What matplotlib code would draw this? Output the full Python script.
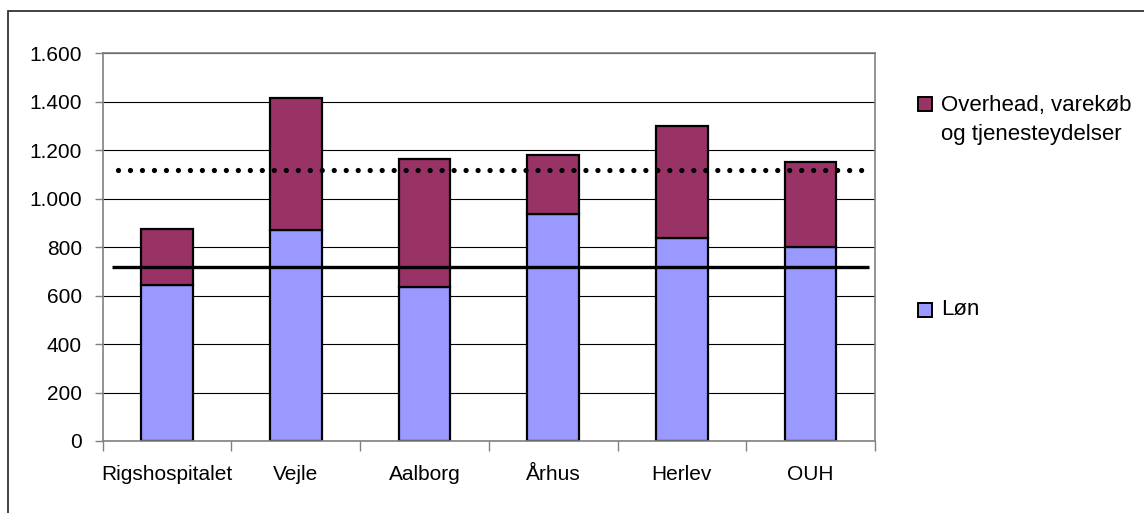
import matplotlib
matplotlib.use("Agg")
import matplotlib.pyplot as plt
from matplotlib.patches import Rectangle
import numpy as np

# ── data ────────────────────────────────────────────────────────────────
hospitals = ["Rigshospitalet", "Vejle", "Aalborg", "Århus", "Herlev", "OUH"]
loen      = [644, 871, 636, 936, 838, 802]
overhead  = [230, 543, 527, 243, 462, 349]
avg_total = 1120   # dotted line
avg_loen  = 720    # solid line
y_ticks   = [0, 200, 400, 600, 800, 1000, 1200, 1400, 1600]
y_labels  = ["0", "200", "400", "600", "800", "1.000", "1.200", "1.400", "1.600"]

PLUM  = "#993366"
LAV   = "#9999FF"
W, H  = 1144, 513

plt.rcParams["font.family"] = ["Liberation Sans", "DejaVu Sans"]
plt.rcParams["font.size"] = 15

fig = plt.figure(figsize=(W / 100, H / 100), dpi=100)
ax = fig.add_axes([102.7 / W, 1 - 441 / H, (875 - 102.7) / W, (441 - 53.3) / H])

x = np.arange(len(hospitals))
ax.bar(x, loen, width=0.40, color=LAV, edgecolor="black", linewidth=1.6, zorder=2)
ax.bar(x, overhead, width=0.40, bottom=loen, color=PLUM, edgecolor="black",
       linewidth=1.6, zorder=2)

ax.hlines(avg_total, -0.385, 5.42, colors="black", linewidth=3.8,
          linestyles=[(0, (0.001, 2.27))], capstyle="round", zorder=3)
ax.hlines(avg_loen, -0.43, 5.45, colors="black", linewidth=2.4, zorder=3)

ax.set_xlim(-0.5, 5.5)
ax.set_ylim(0, 1600)
ax.set_yticks(y_ticks)
ax.set_yticklabels(y_labels)
ax.grid(axis="y", color="black", linewidth=0.8, zorder=0)
ax.set_axisbelow(True)

ax.set_xticks(x)
ax.set_xticklabels(hospitals)
ax.set_xticks(np.arange(-0.5, 6.0, 1.0), minor=True)
ax.tick_params(axis="x", which="major", length=0, pad=17)
ax.tick_params(axis="x", which="minor", length=7, width=1, color="#808080",
               direction="out")
ax.tick_params(axis="y", length=6, width=1, color="#808080", direction="out", pad=9)

for side in ["left", "bottom", "top", "right"]:
    ax.spines[side].set_color("#808080")
    ax.spines[side].set_linewidth(1.2)

# outer chart border
fig.add_artist(Rectangle((8 / W, -0.05), 1.1, 1 - 11 / H + 0.05,
                         transform=fig.transFigure, fill=False,
                         edgecolor="#333333", linewidth=1.3))

# legend (Excel style, first entry two lines)
sq = 14
fig.add_artist(Rectangle((918 / W, 1 - 111 / H), sq / W, sq / H,
                         transform=fig.transFigure, facecolor=PLUM,
                         edgecolor="black", linewidth=1.4))
fig.add_artist(Rectangle((918 / W, 1 - 316.7 / H), sq / W, sq / H,
                         transform=fig.transFigure, facecolor=LAV,
                         edgecolor="black", linewidth=1.4))
fig.text(941 / W, 1 - 105 / H, "Overhead, varekøb", va="center", ha="left", fontsize=16)
fig.text(941 / W, 1 - 135 / H, "og tjenesteydelser", va="center", ha="left", fontsize=16)
fig.text(941 / W, 1 - 309.5 / H, "Løn", va="center", ha="left", fontsize=16)

fig.savefig("out.png", dpi=100)
plt.close(fig)
